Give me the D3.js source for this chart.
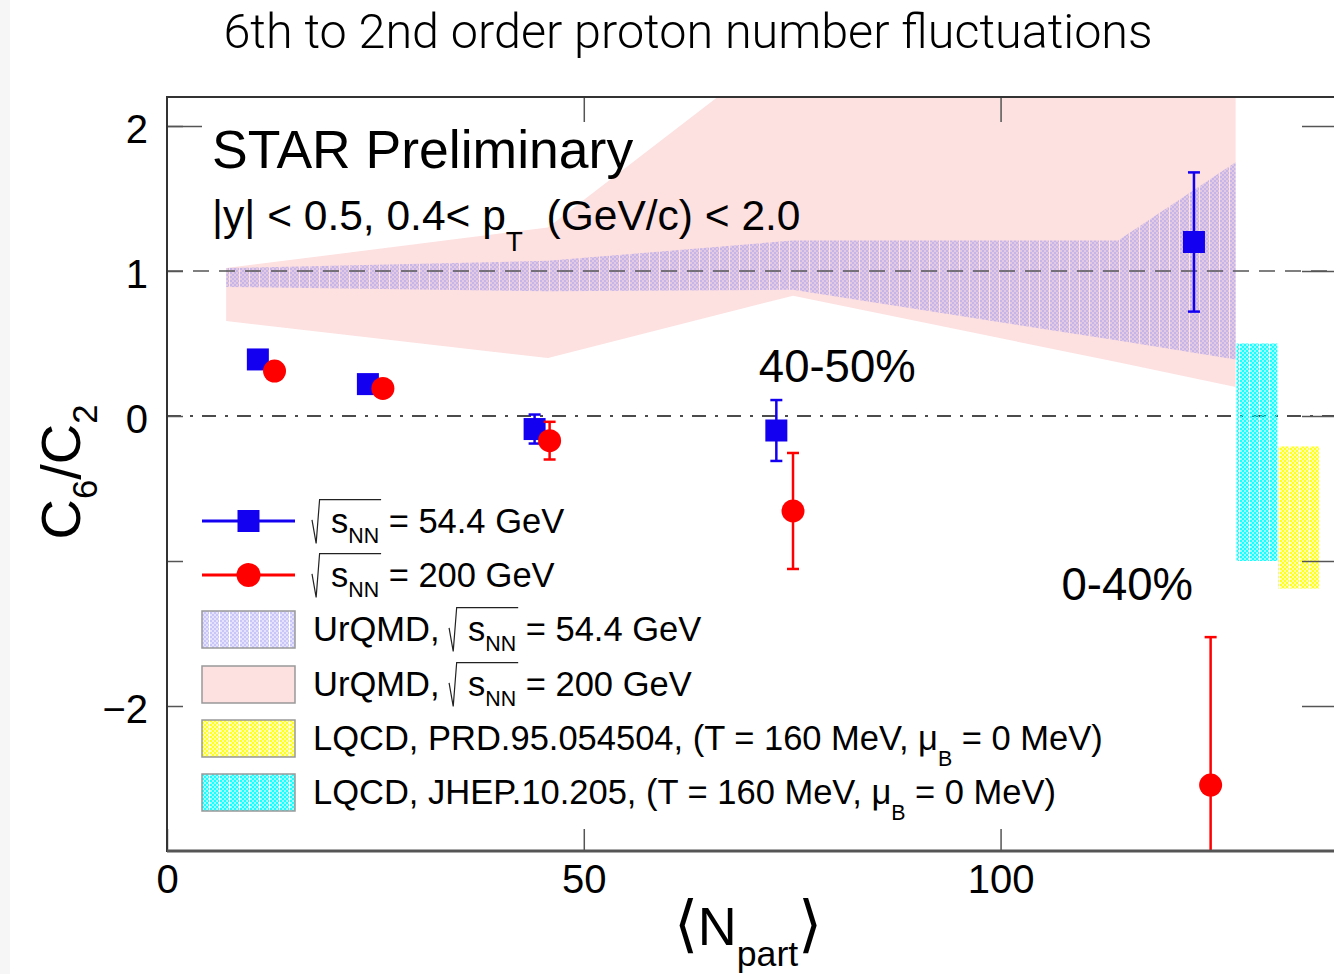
<!DOCTYPE html>
<meta charset='utf-8'>
<style>

body { margin: 0; background: #fff; }
svg text { font-family: 'Liberation Sans', Arial, sans-serif; fill: #000; white-space: pre; }
.title { font-family: Roboto, 'Open Sans', sans-serif; font-weight: 300; }
.axis .domain { display: none; }
.axis line { stroke: #555; stroke-width: 1.5px; }
.axis text { font: 40px 'Liberation Sans', Arial, sans-serif; }

</style>
<body>
<script src='https://cdn.jsdelivr.net/npm/d3@7/dist/d3.min.js'></script>
<script>
'use strict'

// Data

let npart54 = [10.9, 24.1, 44.1, 73.1, 123.2],
	c6c2_54 = [0.39, 0.22, -0.09, -0.10, 1.20],
	err54 = [0.03, 0.03, 0.10, 0.21, 0.48]

let npart200 = [12.9, 25.9, 45.9, 75.1, 125.2],
	c6c2_200 = [0.31, 0.19, -0.17, -0.655, -2.545],
	err200 = [0.03, 0.03, 0.13, 0.40, 1.02]

let urqmdX = [7.1, 45.7, 75.1, 114.1, 128.2],
	urqmd54Lo = [0.89, 0.86, 0.87, 0.52, 0.39],
	urqmd54Hi = [1.02, 1.07, 1.21, 1.21, 1.75],
	urqmd200Lo = [0.655, 0.40, 0.83, 0.37, 0.20],
	urqmd200Hi = [1.02, 1.30, 2.6, 3.5, 4.0]

let lqcdJhepX = [128.3, 133.2], lqcdJhepY = [-1.0, 0.5],
	lqcdPrdX = [133.3, 138.3], lqcdPrdY = [-1.19, -0.21]

let xTicks = [0, 50, 100],
	yTicks = [-2, -1, 0, 1, 2],
	yLabelled = [-2, 0, 1, 2]


// Basic setup

let W = 1334, H = 974,
	x = d3.scaleLinear().domain([0, 140]).range([167, 1334]),
	y = d3.scaleLinear().domain([-3, 2.2]).range([851, 97]),
	x0 = x.range()[0], x1 = x.range()[1], yb = y.range()[0], yt = y.range()[1]

let svg = d3.select('body').append('svg').attr('width', W).attr('height', H)
svg.append('rect').attr('width', 10).attr('height', H).attr('fill', '#f6f6f6')

let defs = svg.append('defs')
defs.append('clipPath').attr('id', 'plot')
	.append('rect').attr('x', x0).attr('y', yt).attr('width', x1 - x0).attr('height', yb - yt)

// ROOT-like checkered fill styles
let pattern = (id, color, base, dots) => {
	let p = defs.append('pattern').attr('id', id).attr('patternUnits', 'userSpaceOnUse')
		.attr('width', 10).attr('height', 4)
	p.append('rect').attr('width', 9).attr('height', 4).attr('fill', color).attr('fill-opacity', base)
	for (let i = 0; i < 5; i++)
		p.append('rect').attr('x', i * 2).attr('y', (i % 2) * 2).attr('width', i == 4 ? 1 : 2).attr('height', 2)
			.attr('fill', color).attr('fill-opacity', dots)
}
pattern('purple', 'rgb(140,135,240)', 0.24, 0.32)
pattern('cyan', '#00ffff', 0.4, 0.85)
pattern('yellow', '#ffff00', 0.35, 0.8)

// text with subscripts and a radical sign, laid out left to right
let put = (g, px, py, size, parts) => {
	let cx = px
	parts.forEach(p => {
		if (p.root) {
			let rx = cx
			cx = put(g, cx + size * 0.55, py, size, p.root)
			g.append('path')
				.attr('d', `M${rx},${py - size * 0.38}L${rx + size * 0.12},${py + size * 0.3}` +
					`L${rx + size * 0.22},${py - size * 0.97}H${cx + 2}`)
				.attr('fill', 'none').attr('stroke', '#222').attr('stroke-width', 1.2)
			return
		}
		let fs = p.sub ? size * (p.scale || 0.62) : (p.size || size)
		let t = g.append('text').attr('x', cx).attr('y', py + (p.sub ? size * (p.dy || 0.3) : 0))
			.style('font-size', fs + 'px').text(p.t)
		cx += t.node().getComputedTextLength()
	})
	return cx
}


// Title

svg.append('text').attr('class', 'title')
	.attr('x', 688).attr('y', 48).attr('text-anchor', 'middle')
	.style('font-size', '48.5px').text('6th to 2nd order proton number fluctuations')


// Bands

let plot = svg.append('g').attr('clip-path', 'url(#plot)')

let band = (lo, hi) => d3.area()
	.x((d, i) => x(urqmdX[i])).y0((d, i) => y(lo[i])).y1((d, i) => y(hi[i]))(urqmdX)

plot.append('path').attr('d', band(urqmd200Lo, urqmd200Hi)).attr('fill', '#fde0e0')
plot.append('path').attr('d', band(urqmd54Lo, urqmd54Hi)).attr('fill', 'url(#purple)')

let box = (xs, ys, fill) => plot.append('rect')
	.attr('x', x(xs[0])).attr('width', x(xs[1]) - x(xs[0]))
	.attr('y', y(ys[1])).attr('height', y(ys[0]) - y(ys[1]))
	.attr('fill', fill)


// Reference lines

plot.append('line').attr('x1', x0).attr('x2', x1).attr('y1', y(1)).attr('y2', y(1))
	.attr('stroke', '#555').attr('stroke-width', 1.3).attr('stroke-dasharray', '16,10')
plot.append('line').attr('x1', x0).attr('x2', x1).attr('y1', y(0)).attr('y2', y(0))
	.attr('stroke', '#111').attr('stroke-width', 1.4).attr('stroke-dasharray', '14,9,3,9')


// Axes

svg.append('g').attr('class', 'axis').attr('transform', `translate(0,${yb})`)
	.call(d3.axisBottom(x).tickValues(xTicks).tickSizeInner(-22).tickSizeOuter(0).tickPadding(14))
svg.append('g').attr('class', 'axis').attr('transform', `translate(0,${yt})`)
	.call(d3.axisTop(x).tickValues(xTicks.slice(1)).tickSize(-25).tickFormat(''))
svg.append('g').attr('class', 'axis').attr('transform', `translate(${x0},0)`)
	.call(d3.axisLeft(y).tickValues(yTicks).tickSizeInner(-16).tickSizeOuter(0).tickPadding(19)
		.tickFormat(d => yLabelled.includes(d) ? d3.format('')(d) : ''))
	.call(s => s.selectAll('text').attr('dy', '0.4em'))
svg.append('g').attr('class', 'axis').attr('transform', `translate(${x0},0)`)
	.call(d3.axisLeft(y).tickValues([2]).tickSize(-35).tickFormat(''))
svg.append('g').attr('class', 'axis').attr('transform', `translate(${x1},0)`)
	.call(d3.axisRight(y).tickValues(yTicks).tickSize(-32).tickFormat(''))

// LQCD boxes sit on top of the right ticks
box(lqcdJhepX, lqcdJhepY, 'url(#cyan)')
box(lqcdPrdX, lqcdPrdY, 'url(#yellow)')

svg.append('line').attr('x1', x0).attr('x2', x0).attr('y1', yt - 1).attr('y2', yb + 1)
	.attr('stroke', '#333').attr('stroke-width', 2)
svg.append('line').attr('x1', x0).attr('x2', x1).attr('y1', yt).attr('y2', yt)
	.attr('stroke', '#333').attr('stroke-width', 2)
svg.append('line').attr('x1', x0).attr('x2', x1).attr('y1', yb).attr('y2', yb)
	.attr('stroke', '#555').attr('stroke-width', 3)


// Data points

let points = (xs, vs, es, color, shape) => {
	let g = plot.append('g').attr('stroke', color).attr('fill', color)
	xs.forEach((xv, i) => {
		let cx = x(xv), lo = y(vs[i] - es[i]), hi = y(vs[i] + es[i])
		g.append('line').attr('x1', cx).attr('x2', cx).attr('y1', lo).attr('y2', hi).attr('stroke-width', 2.5)
		for (let yy of [lo, hi])
			g.append('line').attr('x1', cx - 6).attr('x2', cx + 6).attr('y1', yy).attr('y2', yy).attr('stroke-width', 2.5)
	})
	xs.forEach((xv, i) => {
		if (shape == 'square')
			g.append('rect').attr('x', x(xv) - 11).attr('y', y(vs[i]) - 11)
				.attr('width', 22).attr('height', 22).attr('stroke', 'none')
		else
			g.append('circle').attr('cx', x(xv)).attr('cy', y(vs[i])).attr('r', 11.5).attr('stroke', 'none')
	})
}
points(npart54, c6c2_54, err54, '#1400f0', 'square')
points(npart200, c6c2_200, err200, '#ff0000', 'circle')


// Annotations

let notes = svg.append('g')
notes.append('text').attr('x', x(5.4)).attr('y', y(1.71)).style('font-size', '53.5px').text('STAR Preliminary')
put(notes, x(5.4), y(1.28), 42.5, [
	{t: '|y| < 0.5, 0.4< p'}, {t: 'T', sub: true, dy: 0.48, scale: 0.66}, {t: '  (GeV/c) < 2.0'}])
notes.append('text').attr('x', x(71.0)).attr('y', y(0.235)).style('font-size', '45.5px').text('40-50%')
notes.append('text').attr('x', x(107.3)).attr('y', y(-1.27)).style('font-size', '45.5px').text('0-40%')


// Axis titles

let xt = svg.append('g')
let xw = put(xt, 0, 945, 54, [
	{t: '⟨', size: 62}, {t: 'N'}, {t: 'part', sub: true, dy: 0.38, scale: 0.66}, {t: '⟩', size: 62}])
xt.attr('transform', `translate(${748 - xw / 2},0)`)
xt.selectAll('text').filter(function() { return this.textContent.length == 1 && this.textContent != 'N' })
	.style('font-family', "'DejaVu Sans', sans-serif").style('font-weight', 200)

let yt2 = svg.append('g').attr('transform', 'translate(80,472) rotate(-90)')
let yin = yt2.append('g')
let yw = put(yin, 0, 0, 56, [{t: 'C'}, {t: '6', sub: true, dy: 0.3}, {t: '/C'}, {t: '2', sub: true, dy: 0.3}])
yin.attr('transform', `translate(${-yw / 2},0)`)


// Legend

let leg = svg.append('g'), lx = 202, lw = 93, tx = 313, ls = 34.5,
	rows = [521, 575, 629, 684, 738, 792]
let sNN = [{root: [{t: 's'}, {t: 'NN', sub: true}]}]

let lg = leg.append('g').attr('stroke', '#1400f0').attr('fill', '#1400f0')
lg.append('line').attr('x1', lx).attr('x2', lx + lw).attr('y1', rows[0]).attr('y2', rows[0]).attr('stroke-width', 3)
lg.append('rect').attr('x', lx + lw / 2 - 11).attr('y', rows[0] - 11).attr('width', 22).attr('height', 22).attr('stroke', 'none')
let lr = leg.append('g').attr('stroke', '#ff0000').attr('fill', '#ff0000')
lr.append('line').attr('x1', lx).attr('x2', lx + lw).attr('y1', rows[1]).attr('y2', rows[1]).attr('stroke-width', 3)
lr.append('circle').attr('cx', lx + lw / 2).attr('cy', rows[1]).attr('r', 12).attr('stroke', 'none')

let fills = ['url(#purple)', '#fde0e0', 'url(#yellow)', 'url(#cyan)']
fills.forEach((f, i) => leg.append('rect')
	.attr('x', lx).attr('y', rows[i + 2] - 18).attr('width', lw).attr('height', 37)
	.attr('fill', f).attr('stroke', '#999').attr('stroke-width', 1.5))

let labels = [
	[...sNN, {t: ' = 54.4 GeV'}],
	[...sNN, {t: ' = 200 GeV'}],
	[{t: 'UrQMD, '}, ...sNN, {t: ' = 54.4 GeV'}],
	[{t: 'UrQMD, '}, ...sNN, {t: ' = 200 GeV'}],
	[{t: 'LQCD, PRD.95.054504, (T = 160 MeV, μ'}, {t: 'B', sub: true, dy: 0.45}, {t: ' = 0 MeV)'}],
	[{t: 'LQCD, JHEP.10.205, (T = 160 MeV, μ'}, {t: 'B', sub: true, dy: 0.45}, {t: ' = 0 MeV)'}]
]
labels.forEach((parts, i) => put(leg, i < 2 ? tx - 1 : tx, rows[i] + 12, ls, parts))

</script>
</body>
